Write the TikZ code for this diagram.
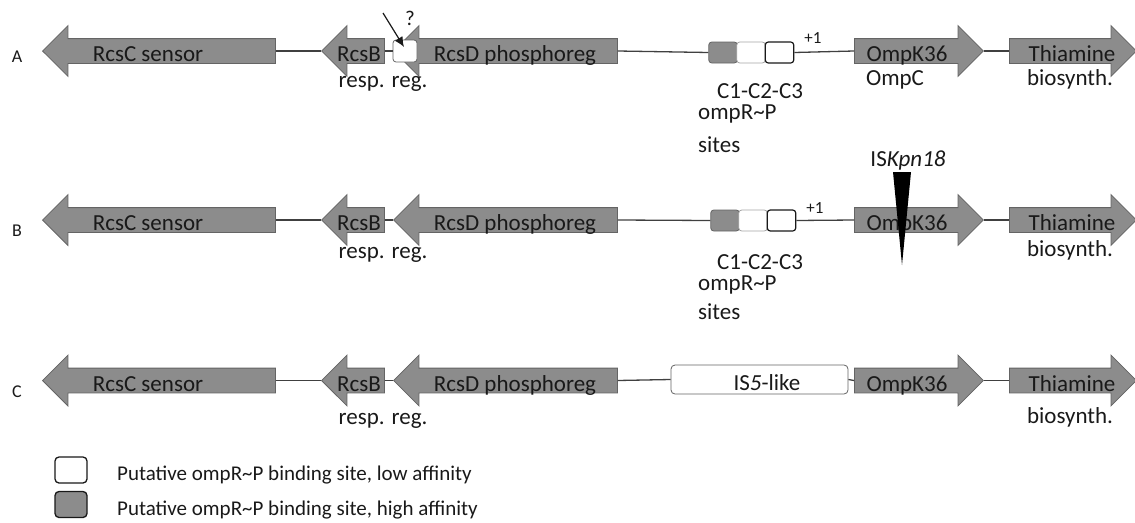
\documentclass[tikz,border=0pt]{standalone}
\usepackage{fontspec}
\setmainfont{Carlito}
\usetikzlibrary{shapes.arrows,arrows.meta}
\definecolor{genefill}{RGB}{140,140,140}
\definecolor{geneedge}{RGB}{100,100,100}
\definecolor{wirecol}{RGB}{64,64,64}
\definecolor{ink}{RGB}{25,25,25}
\definecolor{sitelight}{RGB}{165,165,165}
\tikzset{
  gene/.style={single arrow, draw=geneedge, fill=genefill, line width=0.8pt,
    inner xsep=0pt, inner ysep=12pt, single arrow head extend=13pt, anchor=tip},
  genefwd/.style={gene},
  generev/.style={gene, shape border rotate=180},
  wire/.style={draw=wirecol, line width=1.3pt},
  big/.style={font=\fontsize{23}{26}\selectfont, text=ink, inner sep=0pt, anchor=base},
  bigleft/.style={big, anchor=base west},
  plus/.style={font=\fontsize{17}{20}\selectfont, text=ink, inner sep=0pt, anchor=base},
  rowtag/.style={font=\fontsize{18}{20}\selectfont, text=ink, inner sep=0pt, anchor=base},
  keytext/.style={font=\fontsize{21}{24}\selectfont, text=ink, inner sep=0pt, anchor=base west},
  site/.style={rectangle, rounded corners=3pt, minimum width=28.5pt, minimum height=21pt,
    inner sep=0pt, line width=0.8pt},
  sitehigh/.style={site, fill=genefill, draw=geneedge},
  sitelow/.style={site, fill=white, draw=sitelight},
  sitelowdark/.style={site, fill=white, draw=ink, line width=1.2pt},
  keybox/.style={rectangle, rounded corners=4pt, minimum width=32pt, minimum height=26pt,
    inner sep=0pt, draw=ink, line width=1.3pt},
  pointer/.style={draw=ink, line width=1.2pt, -{Latex[length=10pt,width=9pt]}}
}
\begin{document}
\begin{tikzpicture}[x=1pt,y=-1pt]
\useasboundingbox (0,0) rectangle (1135,522);

% genes shared by the three loci
\foreach \r/\y/\tagb/\rrb/\bb in {A/51/62/87/85, B/220/236/258/256, C/380.5/397/424/423}{
  \node[rowtag] (tag\r) at (17,\tagb) {\r};
  \node[generev, minimum height=233pt] (rcsC\r) at (42,\y) {};
  \node[big] (rcsCt\r) at (148,\y+10.5) {RcsC sensor};
  \node[generev, minimum height=63pt] (rcsB\r) at (321,\y) {};
  \node[generev, minimum height=224pt] (rcsD\r) at (393,\y) {};
  \node[big] (rcsBt\r) at (359,\y+10.5) {RcsB};
  \node[big] (rcsBr\r) at (383,\rrb) {resp. reg.};
  \node[big] (rcsDt\r) at (515,\y+10.5) {RcsD phosphoreg};
  \node[genefwd, minimum height=129pt, anchor=tail] (omp\r) at (854,\y) {};
  \node[big] (ompt\r) at (907,\y+10.5) {OmpK36};
  \node[genefwd, minimum height=127pt, anchor=tail] (thi\r) at (1009,\y) {};
  \node[big] (thit\r) at (1072,\y+10.5) {Thiamine};
  \node[big] (thib\r) at (1070,\bb) {biosynth.};
  \draw[wire] (rcsC\r.tail) -- (rcsB\r.tip);
  \draw[wire] (omp\r.tip) -- (thi\r.tail);
}

% locus A: promoter sites and the site of unknown role
\node[rectangle, rounded corners=3pt, minimum width=24pt, minimum height=22pt, inner sep=0pt,
  fill=white, draw=geneedge, line width=0.8pt] (qbox) at (405,51) {};
\draw[wire] (rcsBA.tail) -- (qbox.west);
\coordinate (qtail) at (383,13);
\coordinate (qtip) at (404,47);
\draw[pointer] (qtail) -- (qtip);
\node[plus, font=\fontsize{21}{24}\selectfont] (qmark) at (410,25) {?};
\node[sitehigh] (c1A) at (723,52.5) {};
\node[sitelow] (c2A) at (751,52.5) {};
\node[sitelowdark] (c3A) at (779.5,52.5) {};
\draw[wire] (rcsDA.tail) -- (c1A.west);
\draw[wire] (c3A.east) -- (ompA.tail);
\node[plus] (tssA) at (813,43) {+1};
\node[big] (ompcA) at (895,85) {OmpC};
\node[big] (cnamesA) at (760,98) {C1-C2-C3};
\node[bigleft] (ompRA) at (698,119) {ompR\textasciitilde P};
\node[bigleft] (sitesA) at (698,152) {sites};

% locus B: insertion inside ompK36
\node[sitehigh] (c1B) at (725,220.5) {};
\node[sitelow] (c2B) at (753,220.5) {};
\node[sitelowdark] (c3B) at (781.5,220.5) {};
\draw[wire] (rcsBB.tail) -- (rcsDB.tip);
\draw[wire] (rcsDB.tail) -- (c1B.west);
\draw[wire] (c3B.east) -- (ompB.tail);
\node[plus] (tssB) at (815,213) {+1};
\node[big] (cnamesB) at (760,269) {C1-C2-C3};
\node[bigleft] (ompRB) at (698,290) {ompR\textasciitilde P};
\node[bigleft] (sitesB) at (698,319) {sites};
\coordinate (wedgeL) at (893,172);
\coordinate (wedgeR) at (911,172);
\coordinate (wedgeT) at (902,265);
\fill[black] (wedgeL) -- (wedgeR) -- (wedgeT) -- cycle;
\node[big] (iskpn) at (908,166.5) {IS\textit{Kpn18}};

% locus C: IS5-like element upstream of ompK36
\node[rectangle, rounded corners=4pt, minimum width=177pt, minimum height=29pt, inner sep=0pt,
  fill=white, draw=geneedge, line width=0.8pt] (isC) at (759.5,379.5) {};
\node[big] (istC) at (767,390) {IS\textit{5}-like};
\draw[wire] (rcsBC.tail) -- (rcsDC.tip);
\draw[wire] (rcsDC.tail) -- (isC.west);
\draw[wire] (isC.east) -- (ompC.tail);

% key
\node[keybox, fill=white] (keylow) at (71,470) {};
\node[keybox, fill=genefill] (keyhigh) at (71,504.5) {};
\node[keytext] (keylowt) at (117,480) {Putative ompR\textasciitilde P binding site, low affinity};
\node[keytext] (keyhight) at (117,515) {Putative ompR\textasciitilde P binding site, high affinity};
\end{tikzpicture}
\end{document}
